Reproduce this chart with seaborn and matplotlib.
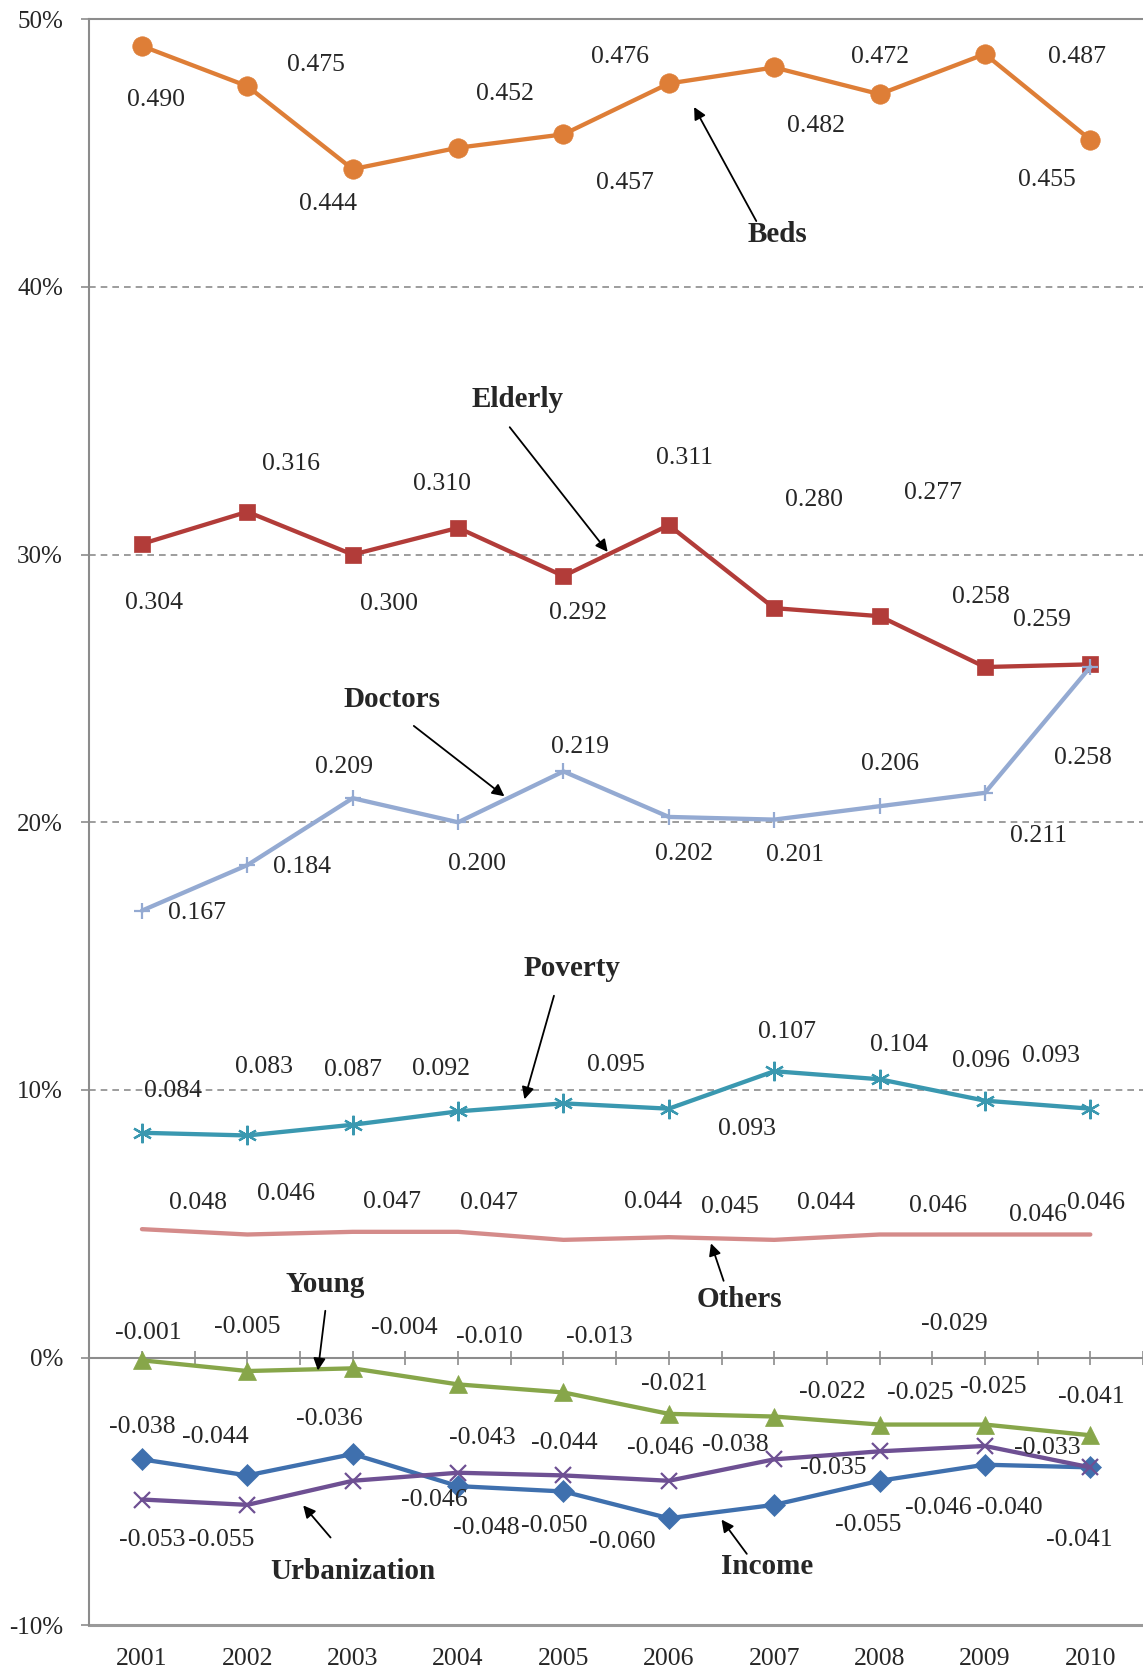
import numpy as np
import matplotlib
matplotlib.use('Agg')
import matplotlib.pyplot as plt
from matplotlib.ticker import FuncFormatter
import seaborn as sns

years = ['2001', '2002', '2003', '2004', '2005', '2006', '2007', '2008', '2009', '2010']

beds = [0.490, 0.475, 0.444, 0.452, 0.457, 0.476, 0.482, 0.472, 0.487, 0.455]
elderly = [0.304, 0.316, 0.300, 0.310, 0.292, 0.311, 0.280, 0.277, 0.258, 0.259]
doctors = [0.167, 0.184, 0.209, 0.200, 0.219, 0.202, 0.201, 0.206, 0.211, 0.258]
poverty = [0.084, 0.083, 0.087, 0.092, 0.095, 0.093, 0.107, 0.104, 0.096, 0.093]
others = [0.048, 0.046, 0.047, 0.047, 0.044, 0.045, 0.044, 0.046, 0.046, 0.046]
young = [-0.001, -0.005, -0.004, -0.010, -0.013, -0.021, -0.022, -0.025, -0.025, -0.029]
income = [-0.038, -0.044, -0.036, -0.048, -0.050, -0.060, -0.055, -0.046, -0.040, -0.041]
urban = [-0.053, -0.055, -0.046, -0.043, -0.044, -0.046, -0.038, -0.035, -0.033, -0.041]

# where the value labels sit (x in category units, y in axis units)
beds_lab = [(1.13, 0.470), (2.65, 0.483), (2.77, 0.431), (4.44, 0.472), (5.58, 0.439),
            (5.54, 0.486), (7.40, 0.460), (8.00, 0.486), (9.87, 0.486), (9.59, 0.440)]
elderly_lab = [(1.11, 0.282), (2.41, 0.334), (3.34, 0.2815), (3.85, 0.3265), (5.14, 0.278),
               (6.15, 0.336), (7.38, 0.3205), (8.51, 0.323), (8.96, 0.284), (9.54, 0.2755)]
doctors_lab = [(1.52, 0.166), (2.52, 0.1834), (2.92, 0.2205), (4.18, 0.1846), (5.16, 0.228),
               (6.14, 0.188), (7.20, 0.1878), (8.10, 0.2217), (9.51, 0.195), (9.93, 0.224)]
poverty_lab = [(1.29, 0.0997), (2.16, 0.1085), (3.00, 0.1073), (3.84, 0.1077), (5.50, 0.1092),
               (6.74, 0.0853), (7.12, 0.1216), (8.18, 0.1168), (8.96, 0.1109), (9.63, 0.1125)]
others_lab = [(1.53, 0.0578), (2.37, 0.061), (3.37, 0.0582), (4.29, 0.0578), (5.85, 0.0582),
              (6.58, 0.0562), (7.49, 0.0578), (8.55, 0.0566), (9.50, 0.0534), (10.05, 0.0578)]
young_lab = [(1.06, 0.0092), (2.00, 0.0116), (3.49, 0.0112), (4.30, 0.0076), (5.34, 0.0076),
             (6.05, -0.0099), (7.55, -0.0127), (8.39, -0.0131), (9.08, -0.0111), (8.71, 0.0124)]
income_lab = [(1.00, -0.0259), (1.70, -0.0295), (2.78, -0.0231), (4.27, -0.0638), (4.91, -0.063),
              (5.56, -0.0689), (7.89, -0.0626), (8.56, -0.0562), (9.23, -0.0562), (9.90, -0.0681)]
urban_lab = [(1.10, -0.0681), (1.75, -0.0681), (3.77, -0.053), (4.23, -0.0299), (5.01, -0.0319),
             (5.92, -0.0339), (6.63, -0.0327), (7.56, -0.0414), (9.59, -0.0339), (10.01, -0.0147)]

# (name, text pos, arrow tail, arrow head)
callouts = [
    ('Beds', (7.03, 0.4194), (6.83, 0.4246), (6.24, 0.4672)),
    ('Elderly', (4.56, 0.3579), (4.49, 0.3476), (5.42, 0.3010)),
    ('Doctors', (3.37, 0.2459), (3.58, 0.2360), (4.44, 0.2097)),
    ('Poverty', (5.08, 0.1452), (4.91, 0.1352), (4.63, 0.0965)),
    ('Others', (6.67, 0.0217), (6.52, 0.0287), (6.40, 0.0427)),
    ('Young', (2.74, 0.0275), (2.74, 0.0175), (2.67, -0.0048)),
    ('Urbanization', (3.00, -0.0800), (2.79, -0.0672), (2.53, -0.0552)),
    ('Income', (6.93, -0.0780), (6.74, -0.0733), (6.50, -0.0605)),
]

series = [
    (beds, beds_lab, '#DE7E37', 'o', 14),
    (elderly, elderly_lab, '#B23C39', 's', 12),
    (doctors, doctors_lab, '#94AAD2', '+', 12),
    (poverty, poverty_lab, '#3A98B0', (6, 2, 0), 14),
    (others, others_lab, '#D48B8A', None, 0),
    (young, young_lab, '#87A64A', '^', 13),
    (income, income_lab, '#3F70AE', 'D', 11),
    (urban, urban_lab, '#6E5093', 'x', 12),
]

sns.set_style('white')
plt.rcParams['font.family'] = ['Liberation Serif', 'DejaVu Serif']

fig = plt.figure(figsize=(11.43, 16.73), dpi=100)
ax = fig.add_axes([0.0781, 0.0285, 0.9219, 0.9600])

x = np.arange(1, 11)
for vals, labs, col, mk, ms in series:
    kw = dict(color=col, linewidth=3.1, zorder=3)
    if mk is not None:
        filled = mk in ('o', 's', '^', 'D')
        kw.update(marker=mk, markersize=ms, markeredgecolor=col,
                  markeredgewidth=0.5 if filled else 1.6)
    sns.lineplot(x=x, y=vals, ax=ax, **kw)
    for v, (lx, ly) in zip(vals, labs):
        ax.text(lx, ly, f'{v:.3f}', ha='center', va='center', fontsize=18.5, zorder=5)

for name, tp, tail, head in callouts:
    ax.text(tp[0], tp[1], name, ha='center', va='center', fontsize=21,
            fontweight='bold', zorder=5)
    ax.annotate('', xy=head, xytext=tail, zorder=5,
                arrowprops=dict(arrowstyle='-|>', color='black', lw=1.3,
                                mutation_scale=18, shrinkA=0, shrinkB=0))

ax.set_xlim(0.5, 10.5)
ax.set_ylim(-0.1, 0.5)

grid_col = '#8C8C8C'
for g in [0.1, 0.2, 0.3, 0.4]:
    ax.axhline(g, color=grid_col, linestyle=(0, (4, 3)), linewidth=1.2, zorder=1)

ax.yaxis.set_major_locator(plt.FixedLocator([-0.1, 0, 0.1, 0.2, 0.3, 0.4, 0.5]))
ax.yaxis.set_major_formatter(FuncFormatter(lambda v, p: f'{v * 100:.0f}%'))
ax.tick_params(axis='y', direction='out', length=6, width=1.2, color=grid_col,
               pad=13, labelsize=18, left=True)

# the category axis crosses at 0%
ax.spines['bottom'].set_position(('data', 0))
ax.spines['bottom'].set_color(grid_col)
ax.spines['bottom'].set_linewidth(1.5)
ax.set_xticks(np.arange(0.5, 10.51, 0.5))
ax.set_xticklabels([])
ax.tick_params(axis='x', direction='inout', length=10.5, width=1.2, color=grid_col, bottom=True)

ax.spines['left'].set_color(grid_col)
ax.spines['left'].set_linewidth(1.5)
ax.spines['top'].set_visible(True)
ax.spines['top'].set_color(grid_col)
ax.spines['top'].set_linewidth(1.5)
ax.spines['right'].set_visible(False)

sec = ax.secondary_xaxis('bottom')
sec.set_xticks(x)
sec.set_xticklabels(years)
sec.tick_params(axis='x', length=0, pad=16, labelsize=18.5)
sec.spines['bottom'].set_color('#9A9A9A')
sec.spines['bottom'].set_linewidth(2.2)

fig.savefig('out.png', dpi=100)
